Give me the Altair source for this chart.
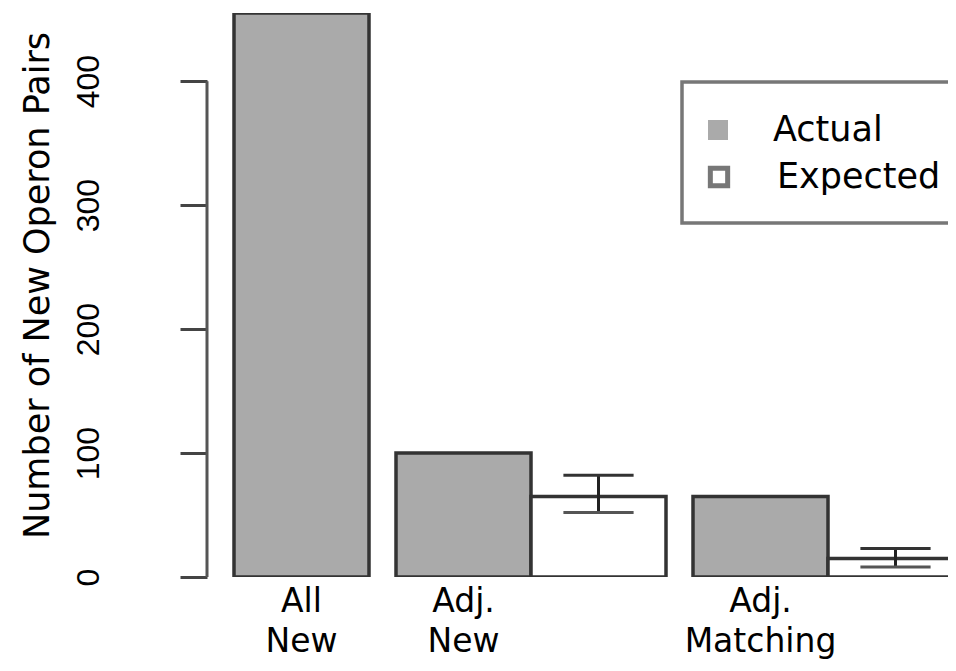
import altair as alt
import pandas as pd

# ---- data ----
categories = ["All\nNew", "Adj.\nNew", "Adj.\nMatching"]
actual = [455, 100, 65]
expected = [None, 65, 15]
err_low = [None, 52, 8]
err_high = [None, 82, 23]
y_ticks = [0, 100, 200, 300, 400]
legend_labels = ["Actual", "Expected"]

# ---- barplot layout (R barplot style: unit-width bars, space before each group) ----
SPACE_GROUP = 0.2
bars = []
pos = 0.0
for i, cat in enumerate(categories):
    pos += SPACE_GROUP
    bars.append({"cat": cat, "series": "Actual", "x0": pos, "x1": pos + 1, "value": actual[i],
                 "base": 0})
    pos += 1
    if expected[i] is not None:
        bars.append({"cat": cat, "series": "Expected", "x0": pos, "x1": pos + 1,
                     "value": expected[i], "base": 0, "lo": err_low[i], "hi": err_high[i]})
        pos += 1
bars_df = pd.DataFrame(bars)
bars_df["xc"] = (bars_df["x0"] + bars_df["x1"]) / 2

err_df = bars_df[bars_df["series"] == "Expected"].copy()
CAP = 0.26
err_df["c0"] = err_df["xc"] - CAP
err_df["c1"] = err_df["xc"] + CAP

lab_df = bars_df[bars_df["series"] == "Actual"][["cat", "xc"]].copy()

W, H = 741, 564
X_MAX = W / 135.0
xs = alt.Scale(domain=[0, X_MAX], nice=False, zero=False)
ys = alt.Scale(domain=[0, 455], nice=False)

bar_layer = alt.Chart(bars_df).mark_rect(
    stroke="#333333", strokeWidth=3.5, clip=True
).encode(
    x=alt.X("x0:Q", scale=xs, axis=None),
    x2="x1:Q",
    y=alt.Y("value:Q", scale=ys, axis=alt.Axis(
        values=y_ticks, domain=False, grid=False,
        tickSize=27, tickWidth=3, tickColor="#444444",
        labelAngle=270, labelAlign="center", labelBaseline="alphabetic",
        labelFont="Liberation Sans", labelFontSize=32, labelPadding=82, labelColor="#000000",
        title="Number of New Operon Pairs", titleFont="DejaVu Sans", titleFontSize=35,
        titleFontWeight="normal", titleAngle=270, titleAlign="center",
        titleBaseline="alphabetic", titleX=-159, titleY=272, titleColor="#000000",
    )),
    y2="base:Q",
    color=alt.Color("series:N", scale=alt.Scale(domain=legend_labels, range=["#aaaaaa", "#ffffff"]),
                    legend=None),
)

axis_rule = alt.Chart(pd.DataFrame({"a": [0], "b": [400]})).mark_rule(
    color="#555555", strokeWidth=3
).encode(x=alt.value(0), y=alt.Y("a:Q", scale=ys), y2="b:Q")

err_v = alt.Chart(err_df).mark_rule(color="#222222", strokeWidth=3, clip=True).encode(
    x=alt.X("xc:Q", scale=xs), y=alt.Y("lo:Q", scale=ys), y2="hi:Q")
err_top = alt.Chart(err_df).mark_rule(color="#333333", strokeWidth=3, clip=True).encode(
    x=alt.X("c0:Q", scale=xs), x2="c1:Q", y=alt.Y("hi:Q", scale=ys))
err_bot = alt.Chart(err_df).mark_rule(color="#555555", strokeWidth=3, clip=True).encode(
    x=alt.X("c0:Q", scale=xs), x2="c1:Q", y=alt.Y("lo:Q", scale=ys))

labels = alt.Chart(lab_df).mark_text(
    lineBreak="\n", align="center", baseline="alphabetic", font="DejaVu Sans",
    fontSize=33, lineHeight=40, color="#000000"
).encode(x=alt.X("xc:Q", scale=xs), y=alt.value(599), text="cat:N")

# ---- legend drawn as marks ----
one = pd.DataFrame({"k": [0]})
leg_box = alt.Chart(one).mark_rect(
    fill="#ffffff", stroke="#777777", strokeWidth=3.5, clip=True
).encode(x=alt.value(475), x2=alt.value(800), y=alt.value(69), y2=alt.value(210))
leg_sym1 = alt.Chart(one).mark_square(size=400, fill="#aaaaaa", opacity=1, strokeWidth=0).encode(
    x=alt.value(511), y=alt.value(117))
leg_sym2 = alt.Chart(one).mark_square(size=300, fill="#ffffff", stroke="#777777", strokeWidth=5,
                                      opacity=1).encode(x=alt.value(512), y=alt.value(164))
leg_txt1 = alt.Chart(pd.DataFrame({"t": [legend_labels[0]]})).mark_text(
    align="left", baseline="middle", font="DejaVu Sans", fontSize=35, color="#000000"
).encode(x=alt.value(566), y=alt.value(117), text="t:N")
leg_txt2 = alt.Chart(pd.DataFrame({"t": [legend_labels[1]]})).mark_text(
    align="left", baseline="middle", font="DejaVu Sans", fontSize=35, color="#000000"
).encode(x=alt.value(570), y=alt.value(164), text="t:N")

chart = alt.layer(
    bar_layer, axis_rule, err_v, err_top, err_bot, labels,
    leg_box, leg_sym1, leg_sym2, leg_txt1, leg_txt2
).properties(
    width=W, height=H,
    autosize=alt.AutoSizeParams(type="none"),
    padding={"left": 199, "top": 5, "right": 0, "bottom": 85},
    background="#ffffff",
).configure_view(stroke=None)

chart.save("out.html", embed_options={"renderer": "svg", "actions": False})
